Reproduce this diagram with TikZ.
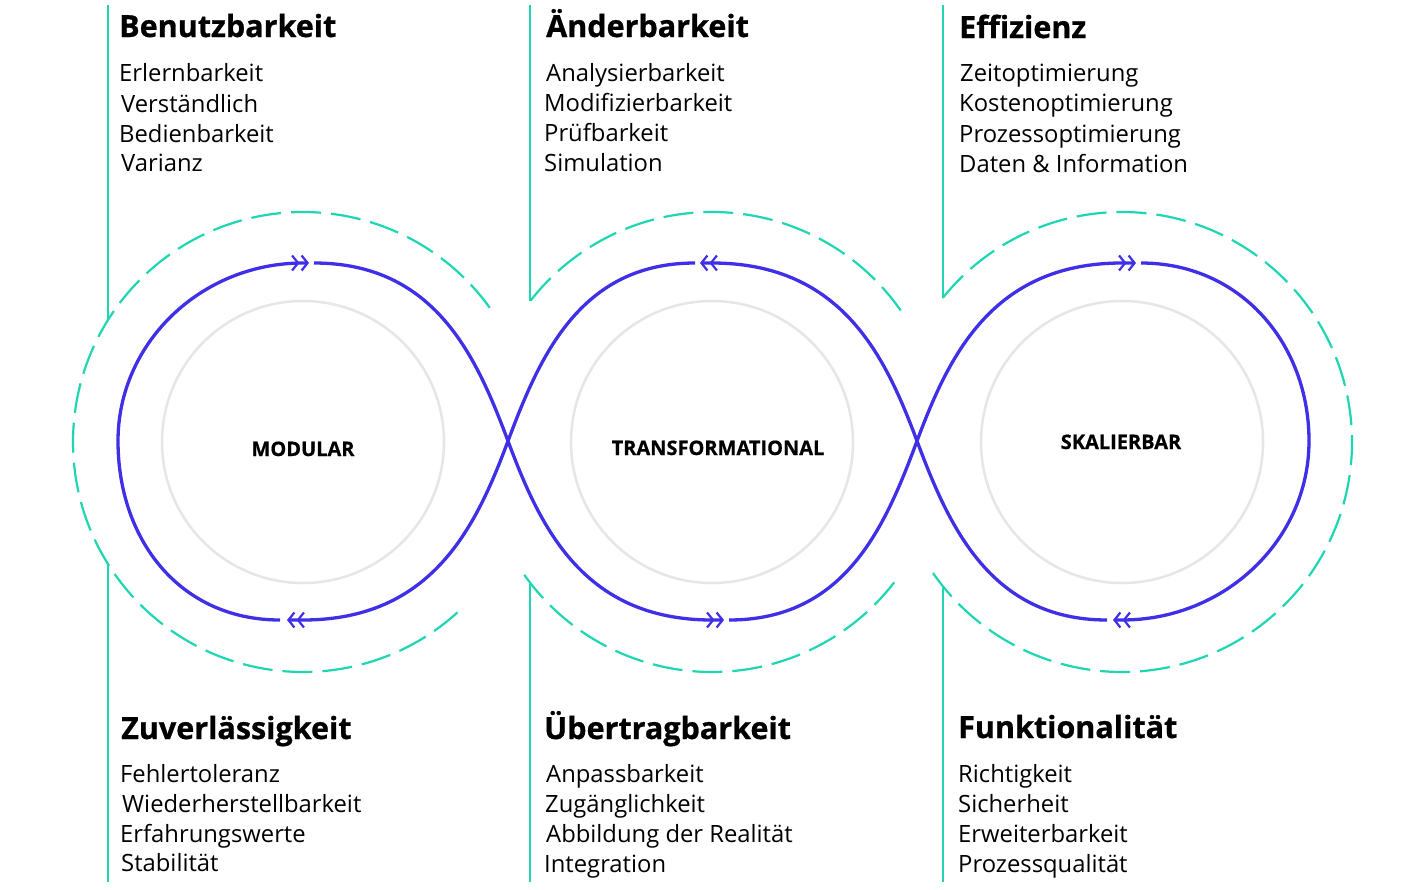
\documentclass[tikz,border=0pt]{standalone}
\usepackage{fontspec}
\setmainfont{Open Sans}
\usetikzlibrary{arrows.meta}
\definecolor{loopblue}{HTML}{3F2FE6}
\definecolor{accteal}{HTML}{1ED6B2}
\definecolor{ringgray}{HTML}{E6E6E6}
\tikzset{
  loopline/.style={draw=loopblue, line width=3.3pt},
  dbltip/.style={-{Straight Barb[length=6pt,width=15pt,line width=2.2pt,sep=1pt]Straight Barb[length=6pt,width=15pt,line width=2.2pt]}},
  tealline/.style={draw=accteal, line width=2.2pt},
  dashline/.style={draw=accteal, line width=2.2pt, dash pattern=on 30pt off 10pt},
  ring/.style={draw=ringgray, line width=2.5pt},
  head/.style={anchor=base west, inner sep=0pt, font=\fontsize{30.5}{32}\selectfont\bfseries\addfontfeature{FakeBold=0.8}},
  item/.style={anchor=base west, inner sep=0pt, font=\fontsize{23.8}{25}\selectfont},
  ctr/.style={anchor=base, inner sep=0pt, font=\fontsize{20}{22}\selectfont\bfseries\addfontfeature{FakeBold=0.6}},
}
\begin{document}
\begin{tikzpicture}[x=1pt,y=-1pt]
\useasboundingbox[fill=white] (0,0) rectangle (1423,889);

% gray rings
\draw[ring] (303,442) circle[radius=141];
\draw[ring] (712,442) circle[radius=141];
\draw[ring] (1122,442) circle[radius=141];

% teal vertical lines
\draw[tealline] (108,5) -- (108,320);
\draw[tealline] (108,564) -- (108,882);
\draw[tealline] (530,5) -- (530,301);
\draw[tealline] (530,583) -- (530,882);
\draw[tealline] (943,5) -- (943,298);
\draw[tealline] (943,586) -- (943,882);

% dashed arcs
\draw[dashline] (303,442) ++(47.8:230) arc[start angle=47.8, end angle=324.8, radius=230];
\draw[dashline] (712,442) ++(218:230) arc[start angle=218, end angle=326, radius=230];
\draw[dashline] (712,442) ++(37.6:230) arc[start angle=37.6, end angle=145.3, radius=230];
\draw[dashline] (1122,442) ++(-141.2:230) arc[start angle=-141.2, end angle=145.5, radius=230];

% crossing points
\coordinate (A) at (508,441);
\coordinate (B) at (917,441);

% loop path, split at arrow heads
\draw[loopline, dbltip] (280,620) .. controls (180,620) and (118,540) .. (118,441)
  .. controls (118,343) and (201,263) .. (303,263) -- (309,263);
\draw[loopline, dbltip] (314,263) .. controls (435,263) and (476.5,356.7) .. (A)
  .. controls (539.5,525.3) and (582,620) .. (712,620) -- (724,620);
\draw[loopline, dbltip] (729,620) .. controls (846,620) and (885.5,525.3) .. (B)
  .. controls (948.5,356.7) and (992,263) .. (1122,263) -- (1136,263);
\draw[loopline, dbltip] (1141,263) .. controls (1240,263) and (1309,343) .. (1309,441)
  .. controls (1309,540) and (1225,620) .. (1122,620) -- (1113,620);
\draw[loopline, dbltip] (1107,620) .. controls (990,620) and (948.5,525.3) .. (B)
  .. controls (885.5,356.7) and (842,263) .. (712,263) -- (700,263);
\draw[loopline, dbltip] (695,263) .. controls (580,263) and (539.5,356.7) .. (A)
  .. controls (476.5,525.3) and (433,620) .. (303,620) -- (287,620);

% center labels
\node[ctr] (lmod) at (303,456) {MODULAR};
\node[ctr] (ltra) at (718,455) {TRANSFORMATIONAL};
\node[ctr] (lska) at (1121,449) {SKALIERBAR};

% top-left column
\node[head] (h1) at (119,37) {Benutzbarkeit};
\node[item] (i11) at (119,81) {Erlernbarkeit};
\node[item] (i12) at (121,112) {Verständlich};
\node[item] (i13) at (119,142) {Bedienbarkeit};
\node[item] (i14) at (121,171) {Varianz};

% top-middle column
\node[head] (h2) at (546,37) {Änderbarkeit};
\node[item] (i21) at (546,81) {Analysierbarkeit};
\node[item] (i22) at (544,111) {Modifizierbarkeit};
\node[item] (i23) at (544,141) {Prüfbarkeit};
\node[item] (i24) at (544,171) {Simulation};

% top-right column
\node[head] (h3) at (959,38) {Effizienz};
\node[item] (i31) at (960,81) {Zeitoptimierung};
\node[item] (i32) at (959,111) {Kostenoptimierung};
\node[item] (i33) at (959,142) {Prozessoptimierung};
\node[item] (i34) at (959,172) {Daten \& Information};

% bottom-left column
\node[head] (h4) at (121,739) {Zuverlässigkeit};
\node[item] (i41) at (120,782) {Fehlertoleranz};
\node[item] (i42) at (122,812) {Wiederherstellbarkeit};
\node[item] (i43) at (120,842) {Erfahrungswerte};
\node[item] (i44) at (121,871) {Stabilität};

% bottom-middle column
\node[head] (h5) at (544,739) {Übertragbarkeit};
\node[item] (i51) at (546,782) {Anpassbarkeit};
\node[item] (i52) at (545,812) {Zugänglichkeit};
\node[item] (i53) at (546,842) {Abbildung der Realität};
\node[item] (i54) at (544,872) {Integration};

% bottom-right column
\node[head] (h6) at (958,738) {Funktionalität};
\node[item] (i61) at (958,782) {Richtigkeit};
\node[item] (i62) at (958,812) {Sicherheit};
\node[item] (i63) at (958,842) {Erweiterbarkeit};
\node[item] (i64) at (958,872) {Prozessqualität};
\end{tikzpicture}
\end{document}
